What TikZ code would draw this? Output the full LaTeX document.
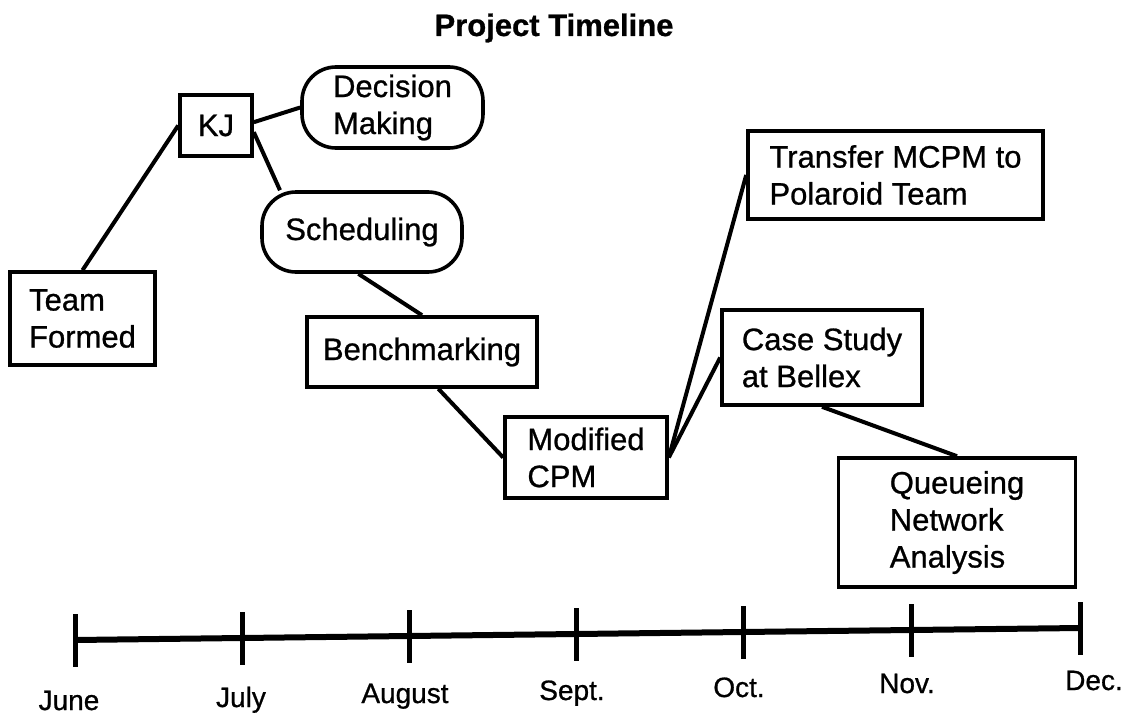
\documentclass[tikz,border=0pt]{standalone}
\usepackage{fontspec}
\setmainfont[FakeBold=0.8]{Liberation Sans}
\newfontfamily\labelfont[FakeBold=0.8]{Liberation Sans}
\usetikzlibrary{calc}

\tikzset{
  every node/.style={font=\labelfont\fontsize{31}{37}\selectfont},
  stage/.style={draw, line width=3.6pt, rectangle, align=left, inner sep=0pt},
  roundstage/.style={stage, rounded corners=34pt},
  link/.style={line width=4pt},
  axis/.style={line width=6pt},
  tick/.style={line width=5pt},
  month/.style={anchor=base, font=\labelfont\fontsize{28}{32}\selectfont},
}

\begin{document}
\begin{tikzpicture}[x=1pt, y=-1pt]
\useasboundingbox (0,0) rectangle (1129,717);

% title
\node[anchor=base, font=\bfseries\fontsize{31}{37}\selectfont] (title) at (554,36) {Project Timeline};

% activities
\node[stage, minimum width=145pt, minimum height=93pt] (team) at (82.5,318.5) {Team\\Formed};
\node[stage, minimum width=72pt, minimum height=61pt] (kj) at (216,125.5) {KJ};
\node[roundstage, minimum width=181pt, minimum height=81pt] (dec) at (392.5,107.5) {Decision\\Making};
\node[roundstage, minimum width=200pt, minimum height=80pt] (sched) at (362,232) {Scheduling};
\node[stage, minimum width=230pt, minimum height=70pt] (bench) at (422,352) {Benchmarking};
\node[stage, minimum width=162pt, minimum height=81pt] (mcpm) at (586,457.5) {Modified\\CPM};
\node[stage, minimum width=295pt, minimum height=88pt] (transfer) at (895.5,175) {Transfer MCPM to\\Polaroid Team};
\node[stage, minimum width=200pt, minimum height=95pt] (case) at (822,357.5) {Case Study\\at Bellex};
\node[stage, minimum width=237pt, minimum height=129pt] (queue) at (957,522.5) {Queueing\\Network\\Analysis};

% connections between activities
\draw[link] (team.north) -- (kj.west);
\draw[link] (kj.5) -- (dec.west);
\draw[link] (kj.-10) -- (sched.153.4);
\draw[link] (sched.-95) -- (bench.north);
\draw[link] (bench.-66.8) -- (mcpm.west);
\draw[link] (mcpm.east) -- (transfer.west);
\draw[link] (mcpm.east) -- (case.west);
\draw[link] (case.south) -- (queue.north);

% time axis
\foreach \i/\x/\y in {0/75/640, 1/242/638, 2/409/636, 3/576/634, 4/743/632, 5/911/630, 6/1080/628}
  \coordinate (m\i) at (\x,\y);
\draw[axis] (m0) -- (m1) -- (m2) -- (m3) -- (m4) -- (m5) -- (m6);
\foreach \i in {0,...,6}
  \draw[tick] ($(m\i)+(0,-26)$) -- ($(m\i)+(0,27)$);

% month labels
\node[month] (june) at (69,710) {June};
\node[month] (july) at (241,707) {July};
\node[month] (aug) at (405,703) {August};
\node[month] (sep) at (572,700) {Sept.};
\node[month] (oct) at (739,697) {Oct.};
\node[month] (nov) at (907,693) {Nov.};
\node[month] (decm) at (1094,690) {Dec.};
\end{tikzpicture}
\end{document}
